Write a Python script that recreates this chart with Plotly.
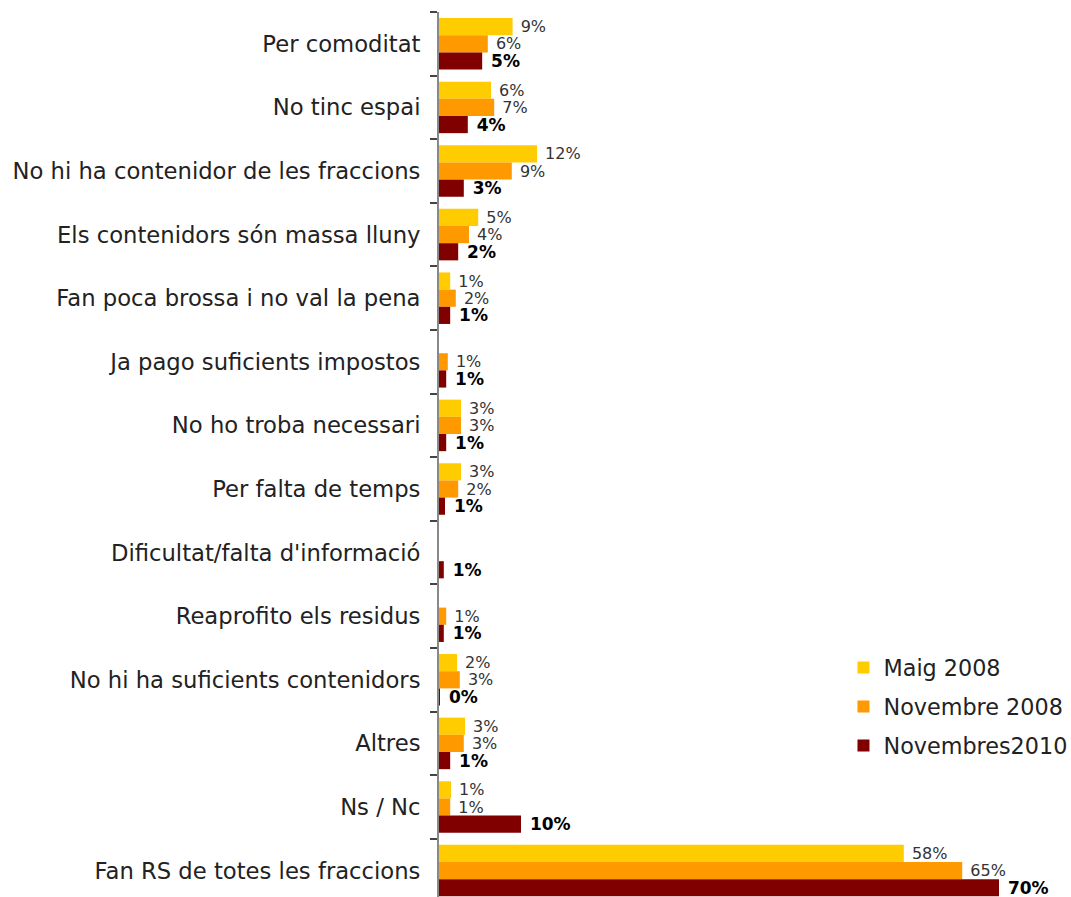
import plotly.graph_objects as go

categories = [
    "Per comoditat",
    "No tinc espai",
    "No hi ha contenidor de les fraccions",
    "Els contenidors són massa lluny",
    "Fan poca brossa i no val la pena",
    "Ja pago suficients impostos",
    "No ho troba necessari",
    "Per falta de temps",
    "Dificultat/falta d'informació",
    "Reaprofito els residus",
    "No hi ha suficients contenidors",
    "Altres",
    "Ns / Nc",
    "Fan RS de totes les fraccions",
]

series_names = ["Maig 2008", "Novembre 2008", "Novembres2010"]

maig_2008 = [9.2, 6.5, 12.25, 4.9, 1.4, 0, 2.75, 2.75, 0, 0, 2.25, 3.25, 1.5, 58.1]
nov_2008 = [6.1, 6.9, 9.1, 3.75, 2.1, 1.1, 2.75, 2.4, 0, 0.9, 2.6, 3.1, 1.4, 65.4]
nov_2010 = [5.4, 3.6, 3.1, 2.4, 1.4, 0.9, 0.9, 0.75, 0.6, 0.6, 0.1, 1.4, 10.25, 70.0]

maig_labels = ["9%", "6%", "12%", "5%", "1%", "", "3%", "3%", "", "", "2%", "3%", "1%", "58%"]
nov08_labels = ["6%", "7%", "9%", "4%", "2%", "1%", "3%", "2%", "", "1%", "3%", "3%", "1%", "65%"]
nov10_labels = ["5%", "4%", "3%", "2%", "1%", "1%", "1%", "1%", "1%", "1%", "0%", "1%", "10%", "70%"]

colors = ["#FFCC00", "#FF9900", "#800000"]

FONT = "DejaVu Sans"

fig = go.Figure()
series = [(maig_2008, maig_labels), (nov_2008, nov08_labels), (nov_2010, nov10_labels)]
for i, ((vals, labs), name, col) in enumerate(zip(series, series_names, colors)):
    bold = i == 2
    fig.add_trace(go.Bar(
        y=categories,
        x=vals,
        name=name,
        orientation="h",
        marker=dict(color=col, line=dict(width=0)),
        text=["\u00a0" + t if t else "" for t in labs],
        textposition="outside",
        constraintext="none",
        cliponaxis=False,
        textfont=dict(
            family=FONT,
            size=17 if bold else 16,
            color="#000000" if bold else "#333333",
            weight="bold" if bold else "normal",
        ),
        legendgroup=name,
        hoverinfo="x+y+name",
    ))

fig.update_layout(
    width=1071,
    height=897,
    barmode="group",
    bargap=0.19,
    bargroupgap=0,
    plot_bgcolor="white",
    paper_bgcolor="white",
    margin=dict(l=439, r=0, t=12, b=0, pad=0, autoexpand=False),
    font=dict(family=FONT, size=22.7, color="#222222"),
    legend=dict(
        x=0.64, y=0.283, xanchor="left", yanchor="top",
        font=dict(family=FONT, size=22.3, color="#222222"),
        traceorder="grouped",
        tracegroupgap=7,
        bgcolor="rgba(0,0,0,0)",
    ),
    xaxis=dict(
        range=[0, 79],
        visible=False,
        showgrid=False,
        zeroline=False,
        automargin=False,
    ),
    yaxis=dict(
        categoryorder="array",
        categoryarray=categories,
        range=[13.415, -0.5],
        showline=True,
        linecolor="#888888",
        linewidth=2,
        ticks="outside",
        tickson="boundaries",
        ticklen=7,
        tickcolor="#444444",
        tickwidth=1.5,
        showgrid=False,
        zeroline=False,
        automargin=False,
        ticklabelstandoff=12,
        tickfont=dict(family=FONT, size=22.7, color="#222222"),
    ),
)

fig.write_html(
    "out.html",
    config={"displayModeBar": False},
    post_script="document.body.style.margin='0';document.body.style.overflow='hidden';",
)
